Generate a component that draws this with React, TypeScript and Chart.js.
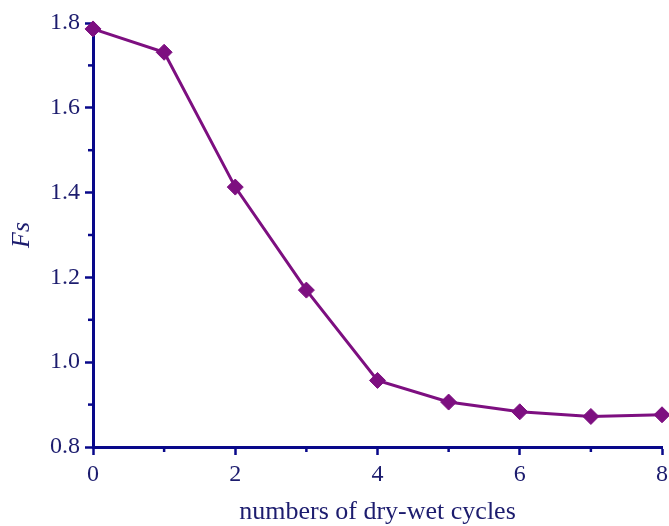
import React, { useEffect, useRef } from "react";
import { Chart, registerables } from "chart.js";

Chart.register(...registerables);

const cycles = [0, 1, 2, 3, 4, 5, 6, 7, 8];
const fsValues = [1.786, 1.731, 1.413, 1.170, 0.957, 0.906, 0.883, 0.872, 0.876];
const yMajorTicks = [0.8, 1.0, 1.2, 1.4, 1.6, 1.8];
const xMajorTicks = [0, 2, 4, 6, 8];

const AXIS = "#08088a";
const TEXT = "#1c1c6e";
const LINE = "#7d0f80";

const minorTicksPlugin = {
  id: "minorTicks",
  afterDraw(chart: any) {
    const ctx = chart.ctx;
    const xs = chart.scales.x;
    const ys = chart.scales.y;
    const area = chart.chartArea;
    ctx.save();
    ctx.strokeStyle = AXIS;
    ctx.lineWidth = 2.5;
    for (let i = 0; i < yMajorTicks.length - 1; i++) {
      const v = (yMajorTicks[i] + yMajorTicks[i + 1]) / 2;
      const py = ys.getPixelForValue(v);
      ctx.beginPath();
      ctx.moveTo(area.left - 5, py);
      ctx.lineTo(area.left, py);
      ctx.stroke();
    }
    for (let i = 0; i < xMajorTicks.length - 1; i++) {
      const v = (xMajorTicks[i] + xMajorTicks[i + 1]) / 2;
      const px = xs.getPixelForValue(v);
      ctx.beginPath();
      ctx.moveTo(px, area.bottom);
      ctx.lineTo(px, area.bottom + 5);
      ctx.stroke();
    }
    ctx.restore();
  },
};

export default function App() {
  const ref = useRef<HTMLCanvasElement | null>(null);
  useEffect(() => {
    document.body.style.margin = "0";
    document.body.style.background = "#ffffff";
    const chart = new Chart(ref.current as HTMLCanvasElement, {
      type: "line",
      data: {
        datasets: [
          {
            data: cycles.map((c, i) => ({ x: c, y: fsValues[i] })),
            borderColor: LINE,
            backgroundColor: LINE,
            borderWidth: 3,
            pointStyle: "rectRot",
            pointRadius: 8,
            pointBorderWidth: 1,
            tension: 0,
            clip: false as any,
          },
        ],
      },
      options: {
        animation: false,
        responsive: false,
        layout: { autoPadding: false, padding: { top: 23, right: 7, left: 0, bottom: 0 } },
        plugins: { legend: { display: false }, tooltip: { enabled: false } },
        scales: {
          x: {
            type: "linear",
            min: 0,
            max: 8,
            afterFit: (s: any) => {
              s.height = 79;
              s.paddingLeft = 0;
              s.paddingRight = 0;
            },
            afterBuildTicks: (s: any) => {
              s.ticks = xMajorTicks.map((v) => ({ value: v }));
            },
            border: { display: true, color: AXIS, width: 3 },
            grid: {
              drawOnChartArea: false,
              drawTicks: true,
              tickLength: 8,
              tickWidth: 2.5,
              tickColor: AXIS,
            },
            ticks: {
              color: TEXT,
              padding: 5,
              font: { family: "Liberation Serif", size: 24 },
              maxRotation: 0,
            },
            title: {
              display: true,
              text: "numbers of dry-wet cycles",
              color: TEXT,
              font: { family: "Liberation Serif", size: 26 },
              padding: { top: 10, bottom: -2 },
            },
          },
          y: {
            type: "linear",
            min: 0.8,
            max: 1.8,
            afterFit: (s: any) => {
              s.width = 93;
              s.paddingTop = 0;
              s.paddingBottom = 0;
            },
            afterBuildTicks: (s: any) => {
              s.ticks = yMajorTicks.map((v) => ({ value: v }));
            },
            border: { display: true, color: AXIS, width: 3 },
            grid: {
              drawOnChartArea: false,
              drawTicks: true,
              tickLength: 8,
              tickWidth: 2.5,
              tickColor: AXIS,
            },
            ticks: {
              color: TEXT,
              padding: 5,
              font: { family: "Liberation Serif", size: 24 },
              callback: (v: any) => Number(v).toFixed(1),
            },
            title: {
              display: true,
              text: "Fs",
              color: TEXT,
              font: { family: "Liberation Serif", size: 26, style: "italic" },
              padding: { top: 7, bottom: 8 },
            },
          },
        },
      },
      plugins: [minorTicksPlugin],
    } as any);
    return () => chart.destroy();
  }, []);
  return (
    <div style={{ width: 669, height: 526, background: "#fff" }}>
      <canvas ref={ref} width={669} height={526} style={{ display: "block" }} />
    </div>
  );
}
